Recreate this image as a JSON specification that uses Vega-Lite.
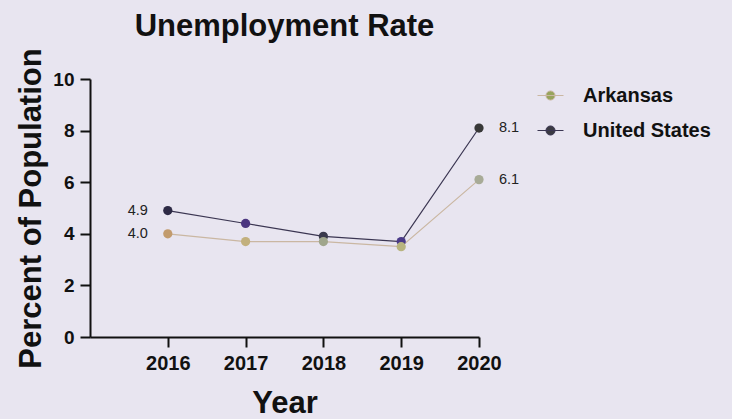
{
  "$schema": "https://vega.github.io/schema/vega-lite/v6.json",
  "width": 389,
  "height": 258,
  "autosize": {"type": "none"},
  "padding": {"left": 90, "top": 79, "right": 253, "bottom": 82},
  "background": "#e8e5f0",
  "title": {
    "text": "Unemployment Rate",
    "fontSize": 31,
    "font": "Liberation Sans",
    "fontWeight": "bold",
    "color": "#111111",
    "anchor": "middle",
    "frame": "group",
    "baseline": "alphabetic",
    "offset": -19
  },
  "config": {
    "view": {"stroke": null},
    "font": "Liberation Sans",
    "axis": {
      "grid": false,
      "domainColor": "#111111",
      "domainWidth": 2,
      "tickColor": "#111111",
      "tickWidth": 2,
      "tickSize": 10,
      "labelFont": "Liberation Sans",
      "labelFontSize": 20,
      "labelFontWeight": "bold",
      "labelColor": "#111111",
      "titleFont": "Liberation Sans",
      "titleFontSize": 31,
      "titleFontWeight": "bold",
      "titleColor": "#111111"
    }
  },
  "data": {
    "values": [
      {"Series": "United States", "Year": 2016, "Rate": 4.9},
      {"Series": "United States", "Year": 2017, "Rate": 4.4},
      {"Series": "United States", "Year": 2018, "Rate": 3.9},
      {"Series": "United States", "Year": 2019, "Rate": 3.7},
      {"Series": "United States", "Year": 2020, "Rate": 8.1},
      {"Series": "Arkansas", "Year": 2016, "Rate": 4.0},
      {"Series": "Arkansas", "Year": 2017, "Rate": 3.7},
      {"Series": "Arkansas", "Year": 2018, "Rate": 3.7},
      {"Series": "Arkansas", "Year": 2019, "Rate": 3.5},
      {"Series": "Arkansas", "Year": 2020, "Rate": 6.1}
    ]
  },
  "encoding": {
    "x": {
      "field": "Year",
      "type": "quantitative",
      "scale": {"domain": [2015, 2020], "nice": false, "zero": false},
      "axis": {"title": "Year", "values": [2016, 2017, 2018, 2019, 2020], "format": "d", "labelPadding": 6, "titlePadding": 15, "labelFlush": false}
    },
    "y": {
      "field": "Rate",
      "type": "quantitative",
      "scale": {"domain": [0, 10], "nice": false},
      "axis": {"title": "Percent of Population", "values": [0, 2, 4, 6, 8, 10], "labelPadding": 6, "titlePadding": 5, "labelFontSize": 19}
    }
  },
  "layer": [
    {
      "mark": {"type": "line", "strokeWidth": 1.2},
      "encoding": {
        "stroke": {
          "field": "Series",
          "type": "nominal",
          "scale": {"domain": ["Arkansas", "United States"], "range": ["#cab7a2", "#3b3652"]},
          "legend": {
            "orient": "none",
            "legendX": 447,
            "legendY": 3,
            "title": null,
            "padding": 0,
            "symbolType": "M-1,0L1,0M-0.35,0A0.35,0.35,0,1,0,0.35,0A0.35,0.35,0,1,0,-0.35,0Z",
            "symbolSize": 676,
            "symbolStrokeWidth": 1,
            "labelFont": "Liberation Sans",
            "labelFontSize": 20,
            "labelFontWeight": "bold",
            "labelColor": "#111111",
            "labelOffset": 19,
            "rowPadding": 11,
            "encode": {
              "symbols": {
                "update": {
                  "fill": {"signal": "datum.value === 'Arkansas' ? '#98a45c' : '#3a3a42'"},
                  "stroke": {"signal": "datum.value === 'Arkansas' ? '#98a45c' : '#3a3a42'"},
                  "opacity": {"value": 1}
                }
              }
            }
          }
        }
      }
    },
    {
      "transform": [{"calculate": "datum.Series + '-' + datum.Year", "as": "key"}],
      "mark": {"type": "point", "filled": true, "size": 85, "opacity": 1},
      "encoding": {
        "color": {
          "field": "key",
          "type": "nominal",
          "scale": {
            "domain": ["Arkansas-2016", "Arkansas-2017", "Arkansas-2018", "Arkansas-2019", "Arkansas-2020",
                       "United States-2016", "United States-2017", "United States-2018", "United States-2019", "United States-2020"],
            "range": ["#c29b6d", "#c2b07d", "#a0a68c", "#b8b47f", "#a8ab97",
                      "#2d2a45", "#4b3680", "#3a3a4c", "#4a3a88", "#383838"]
          },
          "legend": null
        }
      }
    },
    {
      "transform": [{"filter": "datum.Year == 2016"}],
      "mark": {"type": "text", "align": "right", "baseline": "middle", "dx": -20, "fontSize": 14.5, "color": "#222222"},
      "encoding": {"text": {"field": "Rate", "type": "quantitative", "format": ".1f"}}
    },
    {
      "transform": [{"filter": "datum.Year == 2020"}],
      "mark": {"type": "text", "align": "left", "baseline": "middle", "dx": 20, "fontSize": 14.5, "color": "#222222"},
      "encoding": {"text": {"field": "Rate", "type": "quantitative", "format": ".1f"}}
    }
  ]
}
